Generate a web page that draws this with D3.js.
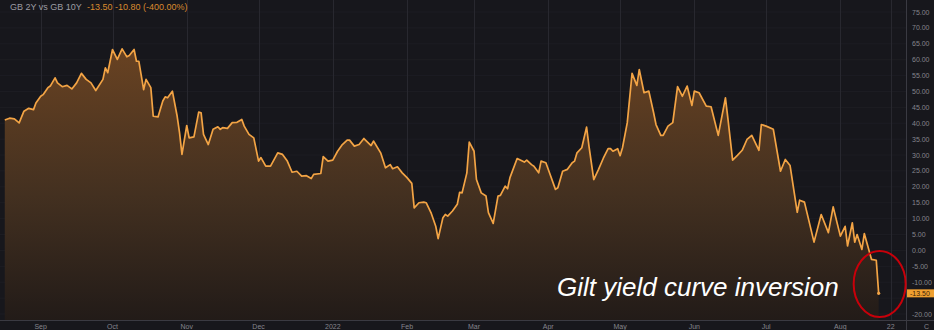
<!DOCTYPE html>
<html>
<head>
<meta charset="utf-8">
<script src="https://cdn.jsdelivr.net/npm/d3@7"></script>
<style>
  html, body { margin: 0; padding: 0; background: #17171c; }
  svg { display: block; }
</style>
</head>
<body>
<svg id="chart" width="934" height="330"></svg>
<script>
// GB 2Y vs GB 10Y spread (basis points)
const dates = [
  "2021-08-17","2021-08-19","2021-08-21","2021-08-23","2021-08-25","2021-08-27","2021-08-29","2021-08-30",
  "2021-09-01","2021-09-02","2021-09-04","2021-09-05","2021-09-07","2021-09-08","2021-09-10","2021-09-12",
  "2021-09-14","2021-09-16","2021-09-18","2021-09-20","2021-09-22","2021-09-24","2021-09-27","2021-09-28","2021-09-29",
  "2021-10-01","2021-10-03","2021-10-05","2021-10-07","2021-10-08","2021-10-10","2021-10-11","2021-10-12",
  "2021-10-14","2021-10-15","2021-10-17","2021-10-18","2021-10-20","2021-10-22","2021-10-23","2021-10-24",
  "2021-10-26","2021-10-28","2021-10-29","2021-10-30",
  "2021-11-01","2021-11-02","2021-11-04","2021-11-06","2021-11-07","2021-11-08","2021-11-10","2021-11-12",
  "2021-11-14","2021-11-15","2021-11-16","2021-11-18","2021-11-20","2021-11-22","2021-11-24","2021-11-25",
  "2021-11-27","2021-11-29",
  "2021-12-01","2021-12-02","2021-12-04","2021-12-06","2021-12-09","2021-12-11","2021-12-13","2021-12-15",
  "2021-12-17","2021-12-19","2021-12-21","2021-12-23","2021-12-24","2021-12-27","2021-12-28","2021-12-30",
  "2022-01-01","2022-01-03","2022-01-05","2022-01-07","2022-01-08","2022-01-10","2022-01-12","2022-01-14",
  "2022-01-17","2022-01-18","2022-01-21","2022-01-23","2022-01-25","2022-01-26","2022-01-28","2022-01-30",
  "2022-02-01","2022-02-03","2022-02-04","2022-02-06","2022-02-08","2022-02-09","2022-02-11","2022-02-13",
  "2022-02-14","2022-02-16","2022-02-17","2022-02-18","2022-02-20","2022-02-22","2022-02-23","2022-02-24",
  "2022-02-26","2022-02-27",
  "2022-03-01","2022-03-02","2022-03-04","2022-03-06","2022-03-07","2022-03-09","2022-03-11","2022-03-12",
  "2022-03-14","2022-03-15","2022-03-16","2022-03-19","2022-03-22","2022-03-23","2022-03-25","2022-03-26",
  "2022-03-28","2022-03-29","2022-03-31",
  "2022-04-02","2022-04-04","2022-04-05","2022-04-07","2022-04-09","2022-04-11","2022-04-12","2022-04-13",
  "2022-04-15","2022-04-17","2022-04-18","2022-04-20","2022-04-22","2022-04-24","2022-04-26","2022-04-27",
  "2022-04-28","2022-04-30",
  "2022-05-01","2022-05-02","2022-05-04","2022-05-06","2022-05-08","2022-05-09","2022-05-11","2022-05-13",
  "2022-05-15","2022-05-16","2022-05-18","2022-05-19","2022-05-21","2022-05-23","2022-05-25","2022-05-27",
  "2022-05-29","2022-05-31",
  "2022-06-01","2022-06-03","2022-06-06","2022-06-08","2022-06-11","2022-06-14","2022-06-15","2022-06-17",
  "2022-06-19","2022-06-21","2022-06-23","2022-06-25","2022-06-28","2022-06-29",
  "2022-07-01","2022-07-04","2022-07-07","2022-07-09","2022-07-11","2022-07-14","2022-07-15","2022-07-17",
  "2022-07-21","2022-07-24","2022-07-27","2022-07-29",
  "2022-08-01","2022-08-03","2022-08-04","2022-08-06","2022-08-07","2022-08-08","2022-08-10","2022-08-11",
  "2022-08-14","2022-08-16","2022-08-17"
];
const spread = [
  41.0,41.6,41.4,40.1,43.8,44.7,44.3,46.4,
  48.5,49.0,51.2,51.7,54.3,52.7,51.5,51.9,
  50.8,52.7,55.7,53.8,52.7,50.3,53.8,57.4,55.9,
  63.2,60.1,63.4,60.9,61.3,63.2,59.5,59.5,
  50.6,53.8,51.2,42.2,42.0,47.0,48.3,48.0,
  50.1,42.2,37.0,30.2,
  39.3,35.4,35.7,43.5,43.3,36.5,33.3,38.1,
  38.9,38.1,38.6,38.4,40.2,40.3,41.2,39.1,
  36.5,35.4,
  28.1,29.2,26.5,26.5,30.7,30.2,28.1,24.6,
  24.9,23.4,23.5,22.6,23.9,24.2,29.5,28.1,
  28.4,31.2,33.3,34.7,34.7,32.8,33.3,35.2,
  33.0,34.4,30.7,26.0,27.0,25.7,26.3,24.4,
  22.9,21.1,13.4,15.0,15.2,15.0,11.9,7.6,
  3.7,10.3,11.3,10.8,12.4,14.5,18.3,18.1,
  24.4,34.1,
  31.2,22.3,18.1,17.1,11.9,8.5,17.1,17.3,
  20.2,19.4,22.9,28.9,27.8,28.4,27.0,26.5,
  24.4,28.1,27.6,
  23.4,19.2,19.7,24.9,25.5,27.6,28.1,30.7,
  32.3,38.8,32.8,22.3,25.5,29.0,32.0,32.0,
  31.2,32.0,
  29.8,32.3,40.2,55.7,51.9,56.9,49.6,50.1,
  43.3,39.6,36.2,36.2,39.1,40.2,51.5,48.5,
  51.7,45.6,
  50.1,49.6,45.4,45.2,36.2,48.0,41.7,28.4,
  29.9,31.5,34.9,36.2,31.5,39.6,
  39.1,38.1,24.9,28.6,26.7,12.0,15.8,15.2,
  2.6,11.3,5.6,13.7,
  4.5,7.6,1.4,8.7,2.6,5.0,0.3,5.3,
  -2.8,-3.1,-13.5
];
const monthTicks = ["2021-09-01","2021-10-01","2021-11-01","2021-12-01","2022-01-01","2022-02-01",
                    "2022-03-01","2022-04-01","2022-05-01","2022-06-01","2022-07-01","2022-08-01","2022-08-22"];
const monthLabels = ["Sep","Oct","Nov","Dec","2022","Feb","Mar","Apr","May","Jun","Jul","Aug","22"];
const yTicks = [75,70,65,60,55,50,45,40,35,30,25,20,15,10,5,0,-5,-10,-15,-20];
const headerName = "GB 2Y vs GB 10Y";
const headerQuote = "-13.50 -10.80 (-400.00%)";
const lastValue = -13.5;
const annotation = "Gilt yield curve inversion";

const parse = d3.utcParse("%Y-%m-%d");
const data = dates.map((d, i) => ({ date: parse(d), value: spread[i] }));

const svg = d3.select("#chart");
const W = 934, H = 330;
const plotRight = 906, plotBottom = 320;
const font = "Liberation Sans, Arial, sans-serif";

const x = d3.scaleUtc()
  .domain([parse("2021-08-15"), parse("2022-08-28")])
  .range([0, 905]);
const y = d3.scaleLinear().domain([-20, 75]).range([314, 12]);

svg.append("rect").attr("width", W).attr("height", H).attr("fill", "#17171c");

// gradient under the line
const defs = svg.append("defs");
const grad = defs.append("linearGradient").attr("id", "areaGrad")
  .attr("gradientUnits", "userSpaceOnUse")
  .attr("x1", 0).attr("x2", 0).attr("y1", y(65)).attr("y2", plotBottom);
grad.append("stop").attr("offset", "0%").attr("stop-color", "#6a4322");
grad.append("stop").attr("offset", "55%").attr("stop-color", "#433020");
grad.append("stop").attr("offset", "100%").attr("stop-color", "#221b18");

defs.append("clipPath").attr("id", "plotClip")
  .append("rect").attr("x", 0).attr("y", 0).attr("width", plotRight).attr("height", plotBottom);

// faint grid
const grid = svg.append("g");
grid.selectAll("line.h").data(yTicks).join("line")
  .attr("x1", 0).attr("x2", plotRight)
  .attr("y1", d => y(d)).attr("y2", d => y(d))
  .attr("stroke", "#1d1d23").attr("stroke-width", 1);
grid.selectAll("line.v").data(monthTicks).join("line")
  .attr("x1", d => Math.round(x(parse(d))) + 0.5).attr("x2", d => Math.round(x(parse(d))) + 0.5)
  .attr("y1", 0).attr("y2", plotBottom)
  .attr("stroke", "#28282f").attr("stroke-width", 1);

const plot = svg.append("g").attr("clip-path", "url(#plotClip)");

const area = d3.area()
  .x(d => x(d.date)).y0(plotBottom).y1(d => y(d.value))
  .curve(d3.curveLinear);
plot.append("path").datum(data).attr("d", area).attr("fill", "url(#areaGrad)");

const line = d3.line().x(d => x(d.date)).y(d => y(d.value));
plot.append("path").datum(data).attr("d", line)
  .attr("fill", "none").attr("stroke", "#f3a445").attr("stroke-width", 1.7)
  .attr("stroke-linejoin", "round");

// last point marker
const last = data[data.length - 1];
plot.append("circle").attr("cx", x(last.date)).attr("cy", y(last.value)).attr("r", 1.6)
  .attr("fill", "#f3a445");

// axes frame
svg.append("line").attr("x1", 0).attr("x2", W).attr("y1", plotBottom + 0.5).attr("y2", plotBottom + 0.5)
  .attr("stroke", "#3a3a42");
svg.append("line").attr("x1", plotRight + 0.5).attr("x2", plotRight + 0.5).attr("y1", 0).attr("y2", H)
  .attr("stroke", "#3a3a42");

// right axis labels (the one under the current-value flag is covered)
const yAxis = svg.append("g").attr("font-family", font)
  .attr("font-size", 7).attr("fill", "#85858c");
yAxis.selectAll("text").data(yTicks.filter(v => Math.abs(v - lastValue) > 3)).join("text")
  .attr("x", 912).attr("y", d => y(d) + 2.5)
  .text(d => d.toFixed(2));

// current value flag
const flag = svg.append("g");
flag.append("rect").attr("x", 907).attr("y", y(lastValue) - 4).attr("width", 27).attr("height", 8)
  .attr("fill", "#f0a030");
flag.append("text").attr("x", 910).attr("y", y(lastValue) + 2.6)
  .attr("font-family", font).attr("font-size", 7)
  .attr("fill", "#3a2208").text(lastValue.toFixed(2));

// bottom axis labels
const xAxis = svg.append("g").attr("font-family", font)
  .attr("font-size", 7).attr("fill", "#85858c").attr("text-anchor", "middle");
xAxis.selectAll("text").data(monthTicks).join("text")
  .attr("x", d => x(parse(d))).attr("y", 329)
  .text((d, i) => monthLabels[i]);
svg.append("text").attr("x", 924).attr("y", 329)
  .attr("font-family", font).attr("font-size", 7)
  .attr("fill", "#85858c").text("C");

// header
const header = svg.append("text").attr("x", 10).attr("y", 10)
  .attr("font-family", font).attr("font-size", 9);
header.append("tspan").attr("fill", "#9c9ca3").text(headerName);
header.append("tspan").attr("dx", 6).attr("fill", "#d98a2e").text(headerQuote);

// annotation
svg.append("text").attr("x", 557).attr("y", 296)
  .attr("font-family", font).attr("font-size", 26)
  .attr("font-style", "italic").attr("fill", "#ffffff").text(annotation);
svg.append("ellipse").attr("cx", x(last.date) + 1).attr("cy", 284).attr("rx", 26).attr("ry", 33)
  .attr("fill", "none").attr("stroke", "#c8000a").attr("stroke-width", 2);
</script>
</body>
</html>
